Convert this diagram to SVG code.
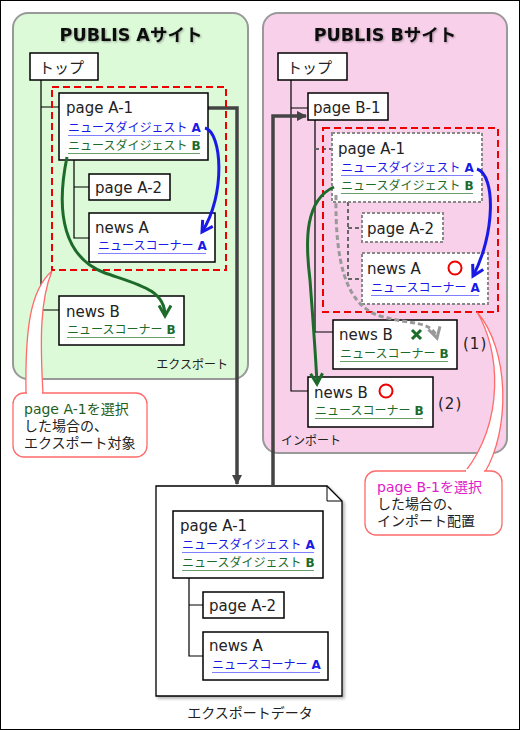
<svg xmlns="http://www.w3.org/2000/svg" width="520" height="730" viewBox="0 0 520 730">
<style>
text{font-family:"DejaVu Sans","Noto Sans CJK JP",sans-serif;fill:#222}
.title{font-size:17.5px;font-weight:bold;fill:#111}
.nd{font-size:15px}
.lk{font-size:12px}
.lk tspan{font-weight:bold}
.bl{fill:#1a1ae6}
.gr{fill:#1d6b2a}
.ulb{stroke:#7f7fff;stroke-width:1.2}
.ulg{stroke:#6a9e6a;stroke-width:1.2}
.box{fill:#fff;stroke:#000;stroke-width:1.5}
.dbox{fill:#fff;stroke:#888;stroke-width:2;stroke-dasharray:3 2}
.tree{fill:none;stroke:#000;stroke-width:1.2}
.dtree{fill:none;stroke:#666;stroke-width:2;stroke-dasharray:4 3}
.red{fill:none;stroke:#ee0000;stroke-width:2;stroke-dasharray:7 4}
.thick{fill:none;stroke:#444;stroke-width:3.5}
.call{fill:#fff;stroke:#ff6a6a;stroke-width:1.3}
.ct{font-size:14px}
.sm{font-size:12px}
</style>
<defs>
<filter id="ts" x="-10%" y="-30%" width="130%" height="170%"><feDropShadow dx="1" dy="1" stdDeviation="0.8" flood-color="#000" flood-opacity="0.35"/></filter>
<filter id="ds" x="-10%" y="-10%" width="130%" height="130%"><feDropShadow dx="2" dy="2" stdDeviation="1.5" flood-color="#000" flood-opacity="0.3"/></filter>
<marker id="mb" viewBox="0 0 10 10" refX="8" refY="5" markerWidth="5" markerHeight="5" orient="auto" markerUnits="strokeWidth"><path d="M1,1 L8,5 L1,9" fill="none" stroke="#1a1ae6" stroke-width="2"/></marker>
<marker id="mg" viewBox="0 0 10 10" refX="8" refY="5" markerWidth="5" markerHeight="5" orient="auto" markerUnits="strokeWidth"><path d="M1,1 L8,5 L1,9" fill="none" stroke="#1d6b2a" stroke-width="2"/></marker>
<marker id="mgy" viewBox="0 0 10 10" refX="8" refY="5" markerWidth="5" markerHeight="5" orient="auto" markerUnits="strokeWidth"><path d="M1,1 L8,5 L1,9" fill="none" stroke="#999" stroke-width="2"/></marker>
<marker id="mt" viewBox="0 0 10 10" refX="9" refY="5" markerWidth="3" markerHeight="3" orient="auto" markerUnits="strokeWidth"><path d="M0,0 L10,5 L0,10 Z" fill="#444"/></marker>
</defs>
<rect x="0.5" y="0.5" width="519" height="729" fill="#fff" stroke="#000" stroke-width="1"/>

<g id="siteA">
<rect x="13" y="13" width="235" height="366" rx="15" fill="#dcf9d8" stroke="#999" stroke-width="2"/>
<text class="title" x="131" y="41" text-anchor="middle" filter="url(#ts)">PUBLIS Aサイト</text>
<text class="sm" x="228" y="369" text-anchor="end">エクスポート</text>
</g>
<g id="siteB">
<rect x="263" y="13" width="244" height="440" rx="15" fill="#f8d0ea" stroke="#999" stroke-width="2"/>
<text class="title" x="385" y="41" text-anchor="middle" filter="url(#ts)">PUBLIS Bサイト</text>
<text class="sm" x="281" y="445">インポート</text>
</g>

<g id="exportData">
<path d="M156,486 H327 L342,501 V696 H156 Z" fill="#fff" stroke="#000" stroke-width="1.3" filter="url(#ds)"/>
<path d="M327,486 V501 H342" fill="none" stroke="#000" stroke-width="1"/>
<text x="250" y="718" text-anchor="middle" style="font-size:14px">エクスポートデータ</text>
</g>

<g id="connectors">
<path class="tree" d="M41,80 V310 H59 M41,107 H59 M74,160 V238 H89 M74,187 H89"/>
<path class="tree" d="M291,80 V391 H308 M291,108 H308 M315,120 V332 H333"/>
<path class="dtree" d="M315,149 H332 M348,202 V279 H362 M348,228 H362"/>
<path class="thick" d="M208,108 H237 V484" marker-end="url(#mt)"/>
<path class="thick" d="M273,486 V116 H306" marker-end="url(#mt)"/>
<path class="tree" d="M189,578 V656 H203 M189,605 H203"/>
</g>

<g id="redA"><rect class="red" x="52" y="87" width="174" height="183"/></g>
<g id="redB"><rect class="red" x="323" y="128" width="175" height="184"/></g>

<g id="a-top"><rect class="box" x="30" y="53" width="68" height="27"/><text class="nd" x="39" y="73">トップ</text></g>
<g id="a-pageA1"><rect class="box" x="59" y="93" width="149" height="67"/><text class="nd" x="66" y="113">page A-1</text>
<text class="lk bl" x="68" y="132">ニュースダイジェスト<tspan> A</tspan></text><line class="ulb" x1="68" y1="135.5" x2="200" y2="135.5"/>
<text class="lk gr" x="68" y="150">ニュースダイジェスト<tspan> B</tspan></text><line class="ulg" x1="68" y1="153.5" x2="200" y2="153.5"/></g>
<g id="a-pageA2"><rect class="box" x="89" y="174" width="81" height="26"/><text class="nd" x="95" y="193">page A-2</text></g>
<g id="a-newsA"><rect class="box" x="89" y="213" width="126" height="49"/><text class="nd" x="95" y="233">news A</text>
<text class="lk bl" x="98" y="250">ニュースコーナー<tspan> A</tspan></text><line class="ulb" x1="98" y1="253.5" x2="206" y2="253.5"/></g>
<g id="a-newsB"><rect class="box" x="59" y="296" width="125" height="49"/><text class="nd" x="66" y="317">news B</text>
<text class="lk gr" x="67" y="334">ニュースコーナー<tspan> B</tspan></text><line class="ulg" x1="67" y1="337.5" x2="175" y2="337.5"/></g>

<g id="b-top"><rect class="box" x="278" y="53" width="69" height="27"/><text class="nd" x="287" y="73">トップ</text></g>
<g id="b-pageB1"><rect class="box" x="308" y="93" width="80" height="27"/><text class="nd" x="313" y="113">page B-1</text></g>
<g id="b-pageA1"><rect class="dbox" x="332" y="133" width="150" height="69"/><text class="nd" x="338" y="154">page A-1</text>
<text class="lk bl" x="341" y="172">ニュースダイジェスト<tspan> A</tspan></text><line class="ulb" x1="341" y1="175.5" x2="473" y2="175.5"/>
<text class="lk gr" x="341" y="190">ニュースダイジェスト<tspan> B</tspan></text><line class="ulg" x1="341" y1="193.5" x2="473" y2="193.5"/></g>
<g id="b-pageA2"><rect class="dbox" x="362" y="213" width="81" height="29"/><text class="nd" x="367" y="234">page A-2</text></g>
<g id="b-newsA"><rect class="dbox" x="362" y="253" width="126" height="51"/><text class="nd" x="367" y="274">news A</text>
<circle cx="455" cy="268" r="6.5" fill="none" stroke="#e00" stroke-width="2"/>
<text class="lk bl" x="371" y="292">ニュースコーナー<tspan> A</tspan></text><line class="ulb" x1="371" y1="295.5" x2="479" y2="295.5"/></g>
<g id="b-newsB1"><rect class="box" x="333" y="320" width="124" height="49"/><text class="nd" x="339" y="340">news B</text>
<path d="M412,330 L421,339 M421,330 L412,339" stroke="#1d6b2a" stroke-width="3" fill="none"/>
<text class="lk gr" x="340" y="358">ニュースコーナー<tspan> B</tspan></text><line class="ulg" x1="340" y1="361.5" x2="448" y2="361.5"/>
<text class="nd" x="463" y="349" letter-spacing="1">(1)</text></g>
<g id="b-newsB2"><rect class="box" x="308" y="377" width="125" height="50"/><text class="nd" x="314" y="398">news B</text>
<circle cx="386" cy="391" r="6.5" fill="none" stroke="#e00" stroke-width="2"/>
<text class="lk gr" x="315" y="415">ニュースコーナー<tspan> B</tspan></text><line class="ulg" x1="315" y1="418.5" x2="423" y2="418.5"/>
<text class="nd" x="438" y="409" letter-spacing="1">(2)</text></g>

<g id="e-pageA1"><rect class="box" x="173" y="511" width="150" height="67"/><text class="nd" x="180" y="531">page A-1</text>
<text class="lk bl" x="182" y="549">ニュースダイジェスト<tspan> A</tspan></text><line class="ulb" x1="182" y1="552.5" x2="314" y2="552.5"/>
<text class="lk gr" x="182" y="567">ニュースダイジェスト<tspan> B</tspan></text><line class="ulg" x1="182" y1="570.5" x2="314" y2="570.5"/></g>
<g id="e-pageA2"><rect class="box" x="203" y="592" width="81" height="26"/><text class="nd" x="209" y="611">page A-2</text></g>
<g id="e-newsA"><rect class="box" x="203" y="632" width="125" height="48"/><text class="nd" x="209" y="651">news A</text>
<text class="lk bl" x="212" y="669">ニュースコーナー<tspan> A</tspan></text><line class="ulb" x1="212" y1="672.5" x2="320" y2="672.5"/></g>

<g id="curves">
<path d="M205,128 C222,132 226,195 202,232" fill="none" stroke="#1a1ae6" stroke-width="3" marker-end="url(#mb)"/>
<path d="M67,157 C55,215 65,258 105,273 C140,285 165,290 165,316" fill="none" stroke="#1d6b2a" stroke-width="3" marker-end="url(#mg)"/>
<path d="M477,169 C496,175 495,235 473,276" fill="none" stroke="#1a1ae6" stroke-width="3" marker-end="url(#mb)"/>
<path d="M334,187 C305,200 305,240 310,280 C313,320 316,360 317,384" fill="none" stroke="#1d6b2a" stroke-width="3" marker-end="url(#mg)"/>
<path d="M336,195 C335,260 345,305 380,316 C410,325 432,320 437,338" fill="none" stroke="#999" stroke-width="3" stroke-dasharray="5 3" marker-end="url(#mgy)"/>
</g>

<g id="calloutA">
<path class="call" d="M52,271 C30,290 25,330 26,394 L43,394 C40,340 40,300 52,271 Z"/>
<rect class="call" x="13" y="393" width="134" height="64" rx="11"/>
<rect x="27" y="391" width="15" height="5" fill="#fff"/>
<text class="ct" x="24" y="414" style="fill:#1d5e1d">page A-1を選択</text>
<text class="ct" x="24" y="431">した場合の、</text>
<text class="ct" x="24" y="448">エクスポート対象</text>
</g>
<g id="calloutB">
<path class="call" d="M477,312 C500,350 505,420 465,472 L485,472 C510,430 510,350 477,312 Z"/>
<rect class="call" x="365" y="471" width="137" height="64" rx="11"/>
<rect x="466" y="469" width="18" height="5" fill="#fff"/>
<text class="ct" x="377" y="492" style="fill:#e020c8">page B-1を選択</text>
<text class="ct" x="377" y="509">した場合の、</text>
<text class="ct" x="377" y="526">インポート配置</text>
</g>
</svg>
